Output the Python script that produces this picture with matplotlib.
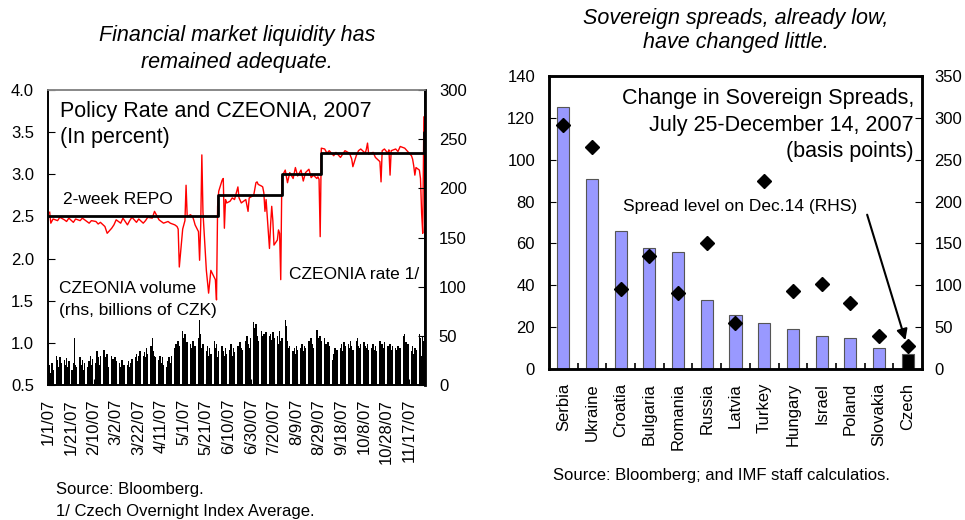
import numpy as np
import pandas as pd
import matplotlib
matplotlib.use('Agg')
import matplotlib.pyplot as plt

plt.rcParams['font.family'] = ['Liberation Sans', 'DejaVu Sans']

# ---- left panel data: CZEONIA rate (percent)
rate_dates = ['2007-01-02', '2007-01-03', '2007-01-05', '2007-01-09', '2007-01-11', '2007-01-15',
              '2007-01-17', '2007-01-19', '2007-01-23', '2007-01-25', '2007-01-29', '2007-01-31',
              '2007-02-02', '2007-02-06', '2007-02-08', '2007-02-12', '2007-02-14', '2007-02-16',
              '2007-02-20', '2007-02-22', '2007-02-26', '2007-02-28', '2007-03-02', '2007-03-06',
              '2007-03-08', '2007-03-12', '2007-03-14', '2007-03-16', '2007-03-20', '2007-03-22',
              '2007-03-26', '2007-03-28', '2007-03-30', '2007-04-03', '2007-04-05', '2007-04-09',
              '2007-04-11', '2007-04-13', '2007-04-17', '2007-04-19', '2007-04-23', '2007-04-25',
              '2007-04-26', '2007-04-27', '2007-04-30', '2007-05-02', '2007-05-03', '2007-05-04',
              '2007-05-07', '2007-05-09', '2007-05-10', '2007-05-11', '2007-05-14', '2007-05-15',
              '2007-05-16', '2007-05-17', '2007-05-18', '2007-05-21', '2007-05-23', '2007-05-25',
              '2007-05-29', '2007-05-30', '2007-05-31', '2007-06-01', '2007-06-04', '2007-06-05',
              '2007-06-06', '2007-06-07', '2007-06-08', '2007-06-11', '2007-06-13', '2007-06-15',
              '2007-06-18', '2007-06-19', '2007-06-21', '2007-06-25', '2007-06-27', '2007-06-28',
              '2007-07-02', '2007-07-04', '2007-07-05', '2007-07-06', '2007-07-09', '2007-07-10',
              '2007-07-11', '2007-07-12', '2007-07-13', '2007-07-16', '2007-07-17', '2007-07-18',
              '2007-07-19', '2007-07-20', '2007-07-23', '2007-07-24', '2007-07-25', '2007-07-26',
              '2007-07-27', '2007-07-30', '2007-08-01', '2007-08-03', '2007-08-06', '2007-08-08',
              '2007-08-10', '2007-08-13', '2007-08-15', '2007-08-17', '2007-08-20', '2007-08-22',
              '2007-08-24', '2007-08-27', '2007-08-28', '2007-08-29', '2007-08-30', '2007-08-31',
              '2007-09-03', '2007-09-05', '2007-09-07', '2007-09-11', '2007-09-13', '2007-09-17',
              '2007-09-19', '2007-09-21', '2007-09-25', '2007-09-27', '2007-09-28', '2007-10-01',
              '2007-10-03', '2007-10-05', '2007-10-09', '2007-10-10', '2007-10-11', '2007-10-12',
              '2007-10-16', '2007-10-18', '2007-10-22', '2007-10-23', '2007-10-24', '2007-10-26',
              '2007-10-29', '2007-10-30', '2007-10-31', '2007-11-01', '2007-11-05', '2007-11-07',
              '2007-11-09', '2007-11-13', '2007-11-15', '2007-11-19', '2007-11-20', '2007-11-21',
              '2007-11-22', '2007-11-23', '2007-11-26', '2007-11-27', '2007-11-28', '2007-11-29',
              '2007-11-30']
rate = [2.55, 2.42, 2.47, 2.45, 2.49, 2.46,
        2.44, 2.48, 2.43, 2.47, 2.45, 2.48,
        2.46, 2.42, 2.45, 2.44, 2.41, 2.43,
        2.38, 2.30, 2.36, 2.40, 2.46, 2.42,
        2.48, 2.40, 2.45, 2.49, 2.43, 2.47,
        2.42, 2.45, 2.49, 2.48, 2.56, 2.46,
        2.44, 2.42, 2.44, 2.42, 2.40, 2.38,
        2.35, 1.90, 2.35, 2.45, 2.87, 2.50,
        2.52, 2.49, 2.45, 2.40, 2.32, 1.98,
        2.40, 3.23, 2.55, 1.86, 1.59, 1.86,
        1.75, 1.51, 2.62, 2.80, 2.93, 2.95,
        2.36, 2.70, 2.66, 2.68, 2.72, 2.70,
        2.85, 2.72, 2.66, 2.70, 2.56, 2.72,
        2.75, 2.90, 2.91, 2.88, 2.86, 2.85,
        2.78, 2.56, 2.70, 2.12, 2.40, 2.62,
        2.45, 2.16, 2.22, 2.34, 2.30, 1.75,
        2.97, 3.05, 2.90, 3.02, 2.95, 3.08,
        2.98, 3.05, 2.92, 3.02, 3.06, 2.96,
        2.99, 2.95, 2.97, 2.94, 2.26, 3.31,
        3.30, 3.25, 3.28, 3.22, 3.26, 3.20,
        3.24, 3.28, 3.25, 3.18, 3.09, 3.22,
        3.28, 3.30, 3.25, 3.30, 3.37, 3.24,
        3.26, 3.20, 3.15, 2.91, 3.28, 3.30,
        3.25, 3.29, 2.99, 3.28, 3.30, 3.27,
        3.33, 3.31, 3.28, 3.22, 3.18, 3.10,
        2.99, 3.08, 3.05, 2.95, 2.54, 2.30,
        3.68]

# 2-week repo rate steps
repo_dates = ['2007-01-01', '2007-05-31', '2007-07-27', '2007-08-31', '2007-11-30', '2007-12-01']
repo = [2.50, 2.75, 3.00, 3.25, 3.50, 3.50]

# CZEONIA volume (bn CZK), five business days per row, Jan 1 - Nov 30
vol_weeks = [
    [42, 20, 12, 22, 15], [30, 25, 18, 28, 22], [25, 20, 27, 18, 24], [15, 22, 48, 20, 18],
    [28, 20, 25, 15, 22], [18, 24, 30, 20, 26], [22, 35, 28, 20, 30], [36, 28, 24, 32, 18],
    [30, 26, 20, 28, 24], [22, 18, 25, 15, 20], [20, 24, 18, 22, 26], [28, 32, 24, 30, 35],
    [30, 34, 28, 38, 32], [40, 48, 35, 30, 28], [25, 30, 22, 28, 20], [18, 24, 28, 22, 30],
    [38, 42, 35, 45, 40], [55, 48, 52, 40, 44], [42, 38, 45, 35, 40], [48, 66, 52, 38, 42],
    [35, 40, 30, 38, 32], [45, 38, 42, 28, 35], [40, 35, 30, 38, 32], [36, 42, 30, 38, 34],
    [40, 35, 44, 38, 36], [45, 50, 42, 38, 48], [64, 58, 62, 50, 45], [55, 50, 52, 48, 54],
    [50, 52, 46, 54, 48], [50, 42, 55, 45, 48], [66, 60, 45, 38, 40], [35, 38, 32, 40, 36],
    [38, 42, 35, 40, 38], [45, 40, 48, 42, 38], [56, 48, 42, 50, 45], [48, 42, 38, 44, 40],
    [25, 32, 38, 30, 36], [38, 42, 35, 44, 40], [42, 38, 45, 40, 36], [45, 48, 40, 38, 42],
    [44, 40, 38, 42, 36], [38, 42, 36, 40, 35], [45, 40, 42, 38, 44], [40, 38, 42, 36, 40],
    [38, 36, 40, 34, 38], [50, 52, 44, 38, 42], [35, 40, 32, 38, 36], [52, 48, 30, 50, 45],
]

# ---- right panel data
countries = ['Serbia', 'Ukraine', 'Croatia', 'Bulgaria', 'Romania', 'Russia', 'Latvia',
             'Turkey', 'Hungary', 'Israel', 'Poland', 'Slovakia', 'Czech']
spread_change = [125, 91, 66, 58, 56, 33, 26, 22, 19, 16, 15, 10, 7]
spread_level = [292, 265, 96, 135, 91, 150, 55, 225, 93, 101, 79, 39, 27]

W, H = 965, 520


def box(x0, y0, x1, y1):
    return [x0 / W, 1 - y1 / H, (x1 - x0) / W, (y1 - y0) / H]


def put(x, y, s, **kw):
    fig.text(x / W, 1 - y / H, s, va='baseline', **kw)


fig = plt.figure(figsize=(W / 100, H / 100), dpi=100)

# ================= left panel
ax1 = fig.add_axes(box(48, 90, 425, 385))
ax1v = ax1.twinx()

bdays = pd.bdate_range('2007-01-01', '2007-11-30')
vol = np.ravel(vol_weeks)
ax1v.bar(bdays, vol, width=1.3, color='black', linewidth=0)
ax1v.set_ylim(0, 300)
ax1v.set_yticks(range(0, 301, 50))

ax1.plot(pd.to_datetime(rate_dates), rate, color='red', lw=1)
ax1.step(pd.to_datetime(repo_dates), repo, where='post', color='black', lw=2)
ax1.set_ylim(0.5, 4.0)
ax1.set_yticks(np.arange(0.5, 4.01, 0.5))
ax1.set_yticklabels([f'{v:.1f}' for v in np.arange(0.5, 4.01, 0.5)])
ax1.set_xlim(pd.Timestamp('2006-12-31 12:00'), pd.Timestamp('2007-12-01'))

tick_dates = pd.date_range('2007-01-01', periods=17, freq='20D')
ax1.set_xticks(tick_dates)
ax1.set_xticklabels([f'{d.month}/{d.day}/07' for d in tick_dates], rotation=90)

ax1.tick_params(axis='y', direction='in', length=5, labelsize=12, pad=10)
ax1.tick_params(axis='x', direction='in', length=4, labelsize=12, pad=10)
ax1v.tick_params(axis='y', direction='in', length=5, labelsize=12, pad=10)
for a in (ax1, ax1v):
    for sp in a.spines.values():
        sp.set_linewidth(1.2)
    a.spines['top'].set_color('#888888')
ax1v.spines['right'].set_linewidth(2)

put(60, 117, 'Policy Rate and CZEONIA, 2007', fontsize=15.5)
put(60, 143, '(In percent)', fontsize=15.5)
put(63, 204, '2-week REPO', fontsize=12.5)
put(289, 279, 'CZEONIA rate 1/', fontsize=12.5)
put(59, 293, 'CZEONIA volume', fontsize=12.5)
put(59, 315, '(rhs, billions of CZK)', fontsize=12.5)

put(237, 41, 'Financial market liquidity has', fontsize=15.5, style='italic', ha='center')
put(237, 68, 'remained adequate.', fontsize=15.5, style='italic', ha='center')
put(56, 494, 'Source: Bloomberg.', fontsize=12)
put(56, 516, '1/ Czech Overnight Index Average.', fontsize=12)

# ================= right panel
ax2 = fig.add_axes(box(549, 76, 922, 369))
ax2r = ax2.twinx()

x = np.arange(len(countries))
colors = ['#9999FF'] * (len(countries) - 1) + ['black']
ax2.bar(x, spread_change, width=0.42, color=colors, edgecolor='#555555', linewidth=0.8)
ax2r.plot(x, spread_level, 'D', color='black', markersize=7)

ax2.set_xlim(-0.5, len(countries) - 0.5)
ax2.set_ylim(0, 140)
ax2.set_yticks(range(0, 141, 20))
ax2r.set_ylim(0, 350)
ax2r.set_yticks(range(0, 351, 50))
ax2.set_xticks(x)
ax2.set_xticklabels(countries, rotation=90)
ax2.set_xticks(x[:-1] + 0.5, minor=True)
ax2.tick_params(axis='x', which='major', length=0, labelsize=12, pad=10)
ax2.tick_params(axis='x', which='minor', direction='in', length=4, width=1.2)
ax2.tick_params(axis='y', direction='in', length=5, labelsize=12, pad=10)
ax2r.tick_params(axis='y', direction='in', length=5, labelsize=12, pad=9)
for a in (ax2, ax2r):
    for sp in a.spines.values():
        sp.set_linewidth(1.8)

ax2.annotate('', xy=(11.95, 12.5), xytext=(10.56, 75),
             arrowprops=dict(arrowstyle='-|>', color='black', lw=1.5, mutation_scale=16))

put(914, 104, 'Change in Sovereign Spreads,', fontsize=15.5, ha='right')
put(914, 131, 'July 25-December 14, 2007', fontsize=15.5, ha='right')
put(914, 157, '(basis points)', fontsize=15.5, ha='right')
put(623, 211, 'Spread level on Dec.14 (RHS)', fontsize=12.5)

put(736, 24, 'Sovereign spreads, already low,', fontsize=15.5, style='italic', ha='center')
put(736, 48, 'have changed little.', fontsize=15.5, style='italic', ha='center')
put(553, 480, 'Source: Bloomberg; and IMF staff calculatios.', fontsize=12)

fig.savefig('out.png', dpi=100)
